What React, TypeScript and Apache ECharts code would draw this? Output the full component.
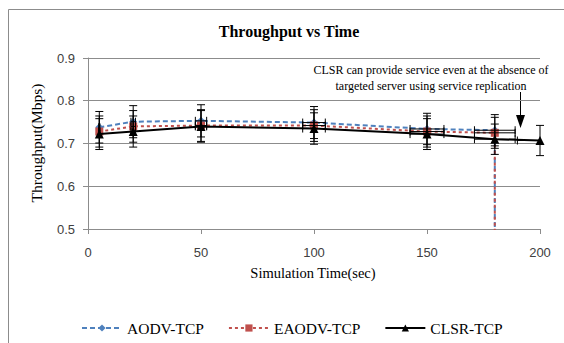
import React, { useEffect, useRef } from "react";
import * as echarts from "echarts";

const times = [5, 20, 50, 100, 150, 180];
const aodvValues = [0.738, 0.751, 0.753, 0.749, 0.734, 0.731];
const eaodvValues = [0.728, 0.740, 0.742, 0.742, 0.728, 0.725];
const clsrTimes = [5, 20, 50, 100, 150, 180, 200];
const clsrValues = [0.722, 0.728, 0.740, 0.735, 0.722, 0.710, 0.707];
const dropTime = 180;
const dropValue = 0;
const errorPct = 0.05;
const yTicks = [0.5, 0.6, 0.7, 0.8, 0.9];
const xTicks = [0, 50, 100, 150, 200];

const SERIF = "'Liberation Serif', 'DejaVu Serif', serif";
const SANS = "'Liberation Sans', Arial, sans-serif";

function pairs(xs: number[], ys: number[]) {
  return xs.map((x, i) => [x, ys[i]]);
}

function errorBarSeries(data: number[][], color: string) {
  return {
    type: "custom",
    silent: true,
    z: 5,
    data,
    renderItem: (params: any, api: any) => {
      const x = api.value(0);
      const y = api.value(1);
      const cs = params.coordSys;
      const left = cs.x;
      const right = cs.x + cs.width;
      const top = cs.y;
      const bottom = cs.y + cs.height;
      const c = api.coord([x, y]);
      const yHi = api.coord([x, y * (1 + errorPct)])[1];
      const yLo = api.coord([x, y * (1 - errorPct)])[1];
      const xLoRaw = api.coord([x * (1 - errorPct), y])[0];
      const xHiRaw = api.coord([x * (1 + errorPct), y])[0];
      const xLo = Math.max(left, xLoRaw);
      const xHi = Math.min(right, xHiRaw);
      const cap = 4;
      const style = { stroke: color, lineWidth: 1 };
      const children: any[] = [
        { type: "line", shape: { x1: c[0], y1: yHi, x2: c[0], y2: yLo }, style },
        { type: "line", shape: { x1: c[0] - cap, y1: yHi, x2: c[0] + cap, y2: yHi }, style },
        { type: "line", shape: { x1: c[0] - cap, y1: yLo, x2: c[0] + cap, y2: yLo }, style },
        { type: "line", shape: { x1: xLo, y1: c[1], x2: xHi, y2: c[1] }, style },
      ];
      if (xLoRaw >= left) {
        children.push({ type: "line", shape: { x1: xLo, y1: c[1] - cap, x2: xLo, y2: c[1] + cap }, style });
      }
      if (xHiRaw <= right) {
        children.push({ type: "line", shape: { x1: xHi, y1: c[1] - cap, x2: xHi, y2: c[1] + cap }, style });
      }
      if (c[1] < top || c[1] > bottom) return { type: "group", children: [] };
      return { type: "group", children };
    },
  };
}

export default function App() {
  const ref = useRef<HTMLDivElement>(null);

  useEffect(() => {
    if (!ref.current) return;
    const chart = echarts.init(ref.current, undefined, { renderer: "svg" });
    const aodvData: any[] = pairs(times, aodvValues);
    aodvData.push({ value: [dropTime, dropValue], symbol: "none" });
    const eaodvData: any[] = pairs(times, eaodvValues);
    eaodvData.push({ value: [dropTime, dropValue], symbol: "none" });
    const clsrData = pairs(clsrTimes, clsrValues);

    chart.setOption({
      animation: false,
      backgroundColor: "#ffffff",
      grid: { left: 88, right: 24, top: 58, bottom: 114 },
      legend: {
        left: 76,
        top: 315,
        itemWidth: 40,
        itemHeight: 9,
        itemGap: 24,
        textStyle: { fontFamily: SERIF, fontSize: 15.5, color: "#000" },
        data: ["AODV-TCP", "EAODV-TCP", "CLSR-TCP"],
      },
      xAxis: {
        type: "value",
        min: xTicks[0],
        max: xTicks[xTicks.length - 1],
        interval: 50,
        axisLine: { show: true, onZero: false, lineStyle: { color: "#8c8c8c" } },
        axisTick: { show: true, length: 5, lineStyle: { color: "#8c8c8c" } },
        axisLabel: { margin: 17, fontFamily: SANS, fontSize: 13, color: "#404040" },
        splitLine: { show: false },
      },
      yAxis: {
        type: "value",
        min: yTicks[0],
        max: yTicks[yTicks.length - 1],
        interval: 0.1,
        axisLine: { show: true, lineStyle: { color: "#8c8c8c" } },
        axisTick: { show: true, length: 5, lineStyle: { color: "#8c8c8c" } },
        axisLabel: {
          margin: 13,
          fontFamily: SANS,
          fontSize: 13,
          color: "#404040",
          formatter: (v: number) => v.toFixed(1),
        },
        splitLine: { show: true, lineStyle: { color: "#8c8c8c", width: 1 } },
      },
      series: [
        {
          name: "AODV-TCP",
          type: "line",
          data: aodvData,
          symbol: "diamond",
          symbolSize: 8,
          clip: true,
          z: 3,
          itemStyle: { color: "#4F81BD" },
          lineStyle: { color: "#4F81BD", width: 2, type: [5, 3] },
        },
        {
          name: "EAODV-TCP",
          type: "line",
          data: eaodvData,
          symbol: "rect",
          symbolSize: 8,
          clip: true,
          z: 3,
          itemStyle: { color: "#C0504D" },
          lineStyle: { color: "#C0504D", width: 2, type: [3, 3] },
        },
        {
          name: "CLSR-TCP",
          type: "line",
          data: clsrData,
          symbol: "triangle",
          symbolSize: 9,
          clip: true,
          z: 4,
          itemStyle: { color: "#000000" },
          lineStyle: { color: "#000000", width: 2 },
        },
        errorBarSeries(pairs(times, aodvValues), "#000"),
        errorBarSeries(pairs(times, eaodvValues), "#000"),
        errorBarSeries(clsrData, "#000"),
      ],
      graphic: [
        {
          type: "rect",
          silent: true,
          shape: { x: 8.5, y: 9.5, width: 600, height: 400 },
          style: { fill: "none", stroke: "#8c8c8c", lineWidth: 1 },
        },
        {
          type: "text",
          x: 289,
          y: 31,
          style: {
            text: "Throughput vs Time",
            font: `bold 16px ${SERIF}`,
            fill: "#000",
            textAlign: "center",
            textVerticalAlign: "middle",
          },
        },
        {
          type: "text",
          x: 36,
          y: 143,
          rotation: Math.PI / 2,
          style: {
            text: "Throughput(Mbps)",
            font: `15.5px ${SERIF}`,
            fill: "#000",
            textAlign: "center",
            textVerticalAlign: "middle",
          },
        },
        {
          type: "text",
          x: 313,
          y: 273,
          style: {
            text: "Simulation Time(sec)",
            font: `14.5px ${SERIF}`,
            fill: "#000",
            textAlign: "center",
            textVerticalAlign: "middle",
          },
        },
        {
          type: "text",
          x: 431,
          y: 70,
          style: {
            text: "CLSR can provide service even at the absence of",
            font: `12px ${SERIF}`,
            fill: "#000",
            textAlign: "center",
            textVerticalAlign: "middle",
          },
        },
        {
          type: "text",
          x: 431,
          y: 86,
          style: {
            text: "targeted server using service replication",
            font: `12px ${SERIF}`,
            fill: "#000",
            textAlign: "center",
            textVerticalAlign: "middle",
          },
        },
        {
          type: "line",
          shape: { x1: 520.5, y1: 92, x2: 520.5, y2: 118 },
          style: { stroke: "#000", lineWidth: 1 },
        },
        {
          type: "polygon",
          shape: { points: [[516, 115], [525, 115], [520.5, 128]] },
          style: { fill: "#000" },
        },
      ],
    });
    return () => chart.dispose();
  }, []);

  return (
    <div
      ref={ref}
      style={{ position: "fixed", left: 0, top: 0, width: 564, height: 343 }}
    />
  );
}
